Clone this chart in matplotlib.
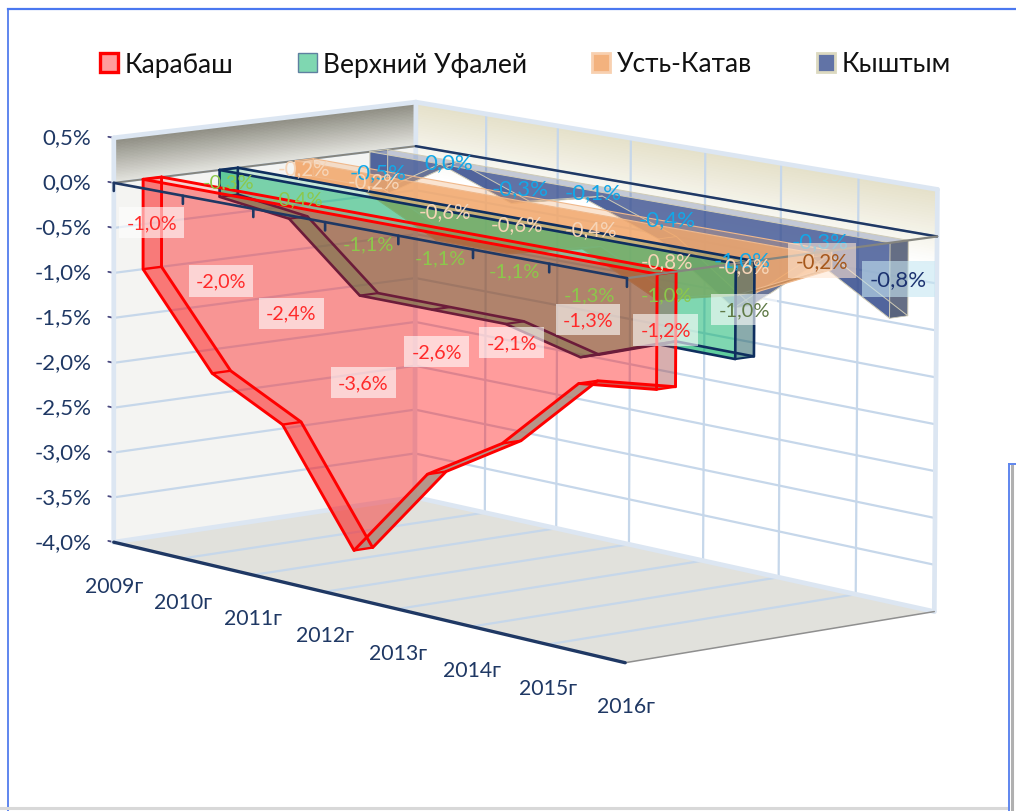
import numpy as np
import matplotlib
matplotlib.use('Agg')
import matplotlib.pyplot as plt
from matplotlib.colors import to_rgba
from matplotlib.lines import Line2D
from matplotlib.patches import Patch
from mpl_toolkits.mplot3d.art3d import Poly3DCollection

plt.rcParams['font.family'] = ['Lato', 'Open Sans', 'DejaVu Sans']

years = ['2009г', '2010г', '2011г', '2012г', '2013г', '2014г', '2015г', '2016г']
z_ticks = [0.5, 0.0, -0.5, -1.0, -1.5, -2.0, -2.5, -3.0, -3.5, -4.0]
names = ['Карабаш', 'Верхний Уфалей', 'Усть-Катав', 'Кыштым']
karabash = [-1.0, -2.0, -2.4, -3.6, -2.6, -2.1, -1.3, -1.2]
ufaley = [-0.3, -0.4, -1.1, -1.1, -1.1, -1.3, -1.0, -1.0]
katav = [-0.2, -0.2, -0.6, -0.6, -0.4, -0.8, -0.6, -0.2]
kyshtym = [-0.5, 0.0, -0.3, -0.1, -0.4, -1.0, -0.3, -0.8]
series = [karabash, ufaley, katav, kyshtym]

face = [('#ff0000', .39), ('#00b064', .50), ('#f2a86c', .88), ('#3a5090', .80)]
edge = ['#ff0000', '#0f2f5f', '#f0b98c', '#cfcbb5']
edge_w = [2.1, 1.9, 0.8, 0.7]
ribbon_up = ['#b08a7c', '#5f9a80', '#d08f58', '#56648c']
cap = [('#a04040', .42), ('#1f5f60', .52), ('#c98a58', .7), ('#4a5570', .85)]
label_col = ['#ff2a2a', '#8cc84b', '#f6d5b8', '#12a8e8']
last_col = ['#ff2a2a', '#5f7a46', '#a6581c', '#1c3270']
box_col = ['#ffffff', '#ffffff', '#ffe6d2', '#c6e6f2']
label_size = [14.2, 14.5, 14.8, 16]
navy = '#1f3864'
grid = '#c6d7ea'
wall_edge = '#dce6f2'
half = 0.12
W, H = 1016.0, 812.0

# picture position of known chart points: category, depth, value -> pixel
anchors = [
    (0, 0, .5, 113, 140), (0, 0, 0, 113, 184), (0, 0, -4, 113, 540),
    (7, 0, 0, 625, 282), (7, 0, -4, 625, 665), (7, 0, -4, 625, 665), (7, 0, -4, 625, 665),
    (3, 0, 0, 323, 226),
    (0, 4, .5, 415, 103), (0, 4, -4, 415, 505), (0, 4, 0, 415, 147),
    (7, 4, .5, 938, 185), (7, 4, -4, 932, 607), (7, 4, 0, 938, 237),
    (3, 4, .5, 631, 140),
    (0, .38, -1, 142, 265), (1, .38, -2, 213, 368), (2, .38, -2.4, 283, 423),
    (3, .38, -3.6, 352, 550), (4, .38, -2.6, 425, 475), (5, .38, -2.1, 505, 445),
    (6, .38, -1.3, 585, 390), (7, .38, -1.2, 655, 385),
    (3, .62, -3.6, 372, 548), (7, .62, -1.2, 672, 385),
    (7, 1.38, -1, 734, 360), (7, 1.62, -1, 753, 358),
    (7, 3.38, -.8, 889, 319), (7, 3.62, -.8, 906, 317),
]


def fit_camera(pts):
    rows = []
    for x, y, z, u, v in pts:
        u, v = u / 1000.0, (H - v) / 1000.0
        p = [x, y, z, 1.0]
        rows.append(p + [0, 0, 0, 0] + [-u * c for c in p])
        rows.append([0, 0, 0, 0] + p + [-v * c for c in p])
    P = np.linalg.svd(np.array(rows))[2][-1].reshape(3, 4)
    P[:2] *= 1000.0
    return P / P[2, 3]


CAM = fit_camera(anchors)

fig = plt.figure(figsize=(10.16, 8.12), dpi=100, facecolor='white')
ax = fig.add_axes([0, 0, 1, 1], projection='3d', computed_zorder=False)
ax.set_axis_off()
ax.patch.set_visible(False)
ax.apply_aspect = lambda position=None: None


def get_proj():
    T = ax.transData.inverted().get_matrix()
    Q = T @ CAM
    return np.array([Q[0], Q[1], [0, 0, 0, 1.0], Q[2]])


ax.get_proj = get_proj


def poly(verts, fc='none', ec='none', lw=0.0, z=1.0, alpha=None):
    f = to_rgba(fc, alpha) if fc != 'none' else (0, 0, 0, 0)
    e = to_rgba(ec) if ec != 'none' else (0, 0, 0, 0)
    c = Poly3DCollection([verts], facecolors=[f], edgecolors=[e], linewidths=lw, zorder=z)
    ax.add_collection3d(c, autolim=False)


def path3d(pts, color, lw, z=2.0):
    c = Poly3DCollection([list(pts)], closed=False, facecolors=[(0, 0, 0, 0)],
                         edgecolors=[to_rgba(color)], linewidths=lw, zorder=z,
                         capstyle='round', joinstyle='round')
    ax.add_collection3d(c, autolim=False)


def line(a, b, color, lw, z=2.0):
    path3d([a, b], color, lw, z)


def label(x, y, z, s, dx=0.0, dy=0.0, **kw):
    """Text placed at a chart position, dx/dy in picture pixels (dy downward)."""
    q = CAM @ np.array([x, y, z, 1.0])
    return ax.text2D((q[0] / q[2] + dx) / W, (q[1] / q[2] - dy) / H, s, transform=ax.transAxes, **kw)


def lerp(c0, c1, t):
    return tuple(np.array(to_rgba(c0)) * (1 - t) + np.array(to_rgba(c1)) * t)


# walls, gradient built of thin strips
steps = 30
for i in range(steps):
    t0, t1 = i / steps, (i + 1) / steps
    za, zb = .5 - .5 * t0, .5 - .5 * t1
    c = lerp('#8b8a7f', '#e6e6e1', t0)
    poly([(0, 0, za), (0, 4, za), (0, 4, zb), (0, 0, zb)], fc=c, ec=c, lw=.6, z=0.1)
    za, zb = .5 - .8 * t0, .5 - .8 * t1
    c = lerp('#e4e0c8', '#ffffff', t0)
    poly([(0, 4, za), (7, 4, za), (7, 4, zb), (0, 4, zb)], fc=c, ec=c, lw=.6, z=0.1)
poly([(0, 0, 0), (0, 4, 0), (0, 4, -4), (0, 0, -4)], fc='#f4f4f2', z=0.1)
poly([(0, 0, -4), (7, 0, -4), (7, 4, -4), (0, 4, -4)], fc='#e1e1dc', z=0.15)

# gridlines
for zv in z_ticks:
    line((0, 0, zv), (0, 4, zv), grid, 1.6, z=0.2)
    line((0, 4, zv), (7, 4, zv), grid, 1.6, z=0.2)
    line((0, 0, zv), (-.08, 0, zv), '#4a4a80', 1.3, z=0.2)
for i in range(1, 7):
    line((i, 4, .5), (i, 4, -4), grid, 1.6, z=0.2)
    line((i, 0, -4), (i, 4, -4), grid, 1.6, z=0.25)
for a, b in [((0, 0, .5), (0, 0, -4)), ((0, 0, .5), (0, 4, .5)), ((0, 4, .5), (7, 4, .5)),
             ((7, 4, .5), (7, 4, -4)), ((0, 4, .5), (0, 4, -4)), ((0, 0, -4), (0, 4, -4)),
             ((0, 4, -4), (7, 4, -4))]:
    line(a, b, wall_edge, 3.4, z=0.3)
line((7, 0, -4), (7, 4, -4), '#8f8f8f', 1.1, z=0.35)
line((0, 0, -4), (7, 0, -4), navy, 2.4, z=0.4)

# zero plane outline
ZPL = 9.0
line((0, 0, 0), (0, 4, 0), '#85857f', 1.4, z=0.5)
line((7, 0, 0), (7, 4, 0), '#85857f', 1.6, z=ZPL)
line((0, 4, 0), (7, 4, 0), navy, 1.8, z=0.5)
line((0, 0, 0), (7, 0, 0), navy, 1.9, z=ZPL)
for i in range(8):
    line((i, 0, 0), (i, 0, -.09), navy, 1.9, z=ZPL)

# series, far to near
X = np.arange(len(years))
for k in [3, 2, 1, 0]:
    vals = series[k]
    d0, d1 = k + .5 - half, k + .5 + half
    base = 5.0 - k
    fc, fa = face[k]
    ec, lw = edge[k], edge_w[k]
    poly([(0, d0, 0), (7, d0, 0), (7, d1, 0), (0, d1, 0)], fc=fc, alpha=fa * .35, z=base)
    for i in range(len(vals) - 1):
        a, b = vals[i], vals[i + 1]
        rising = b > a
        poly([(i, d0, a), (i + 1, d0, b), (i + 1, d1, b), (i, d1, a)],
             fc=ribbon_up[k] if rising else fc, alpha=.9 if rising else fa * .5, z=base + .1)
    poly([(7, d0, 0), (7, d1, 0), (7, d1, vals[7]), (7, d0, vals[7])], fc=cap[k][0], alpha=cap[k][1], z=base + .1)
    poly([(0, d0, 0), (0, d1, 0), (0, d1, vals[0]), (0, d0, vals[0])], fc=fc, alpha=fa * .45, z=base + .1)
    outline = [(0, d0, 0)] + [(x, d0, v) for x, v in zip(X, vals)] + [(7, d0, 0)]
    poly(outline, fc=fc, alpha=fa, z=base + .2)
    ez = base + .3
    for d in (d0, d1):
        path3d([(0, d, 0)] + [(x, d, v) for x, v in zip(X, vals)] + [(7, d, 0), (0, d, 0)], ec, lw, z=ez)
    for i, v in enumerate(vals):
        line((i, d0, v), (i, d1, v), ec, lw * .8, z=ez)
    line((0, d0, 0), (0, d1, 0), ec, lw, z=ez)
    line((7, d0, 0), (7, d1, 0), ec, lw, z=ez)

# value labels sit at mid-height of each area
for k in [3, 2, 1, 0]:
    for i, v in enumerate(series[k]):
        s = f'{v:.1f}%'.replace('.', ',')
        col = last_col[k] if i == 7 else label_col[k]
        bb = dict(facecolor=box_col[k], alpha=.6, edgecolor='none', boxstyle='square,pad=0.36') if (k == 0 or i == 7) else None
        label(i, k + .5, v / 2, s, color=col, fontsize=label_size[k], ha='center', va='center',
              zorder=20 + (3 - k), bbox=bb)

# axis labels
for zv in z_ticks:
    label(0, 0, zv, f'{zv:.1f}%'.replace('.', ','), dx=-22, color=navy, fontsize=16, ha='right', va='center', zorder=30)
for i, y in enumerate(years):
    label(i, 0, -4, y, dx=30, dy=44, color=navy, fontsize=15.3, ha='right', va='center', zorder=30)

# legend
handles = [Patch(facecolor=to_rgba(f, a), edgecolor=e, linewidth=w)
           for (f, a), e, w in zip(face, ['#ff0000', '#5f80a0', '#f8d0b0', '#dcd9c0'], [2.4, 1.0, 2.0, 2.0])]
leg = ax.legend(handles, names, ncols=4, frameon=False, fontsize=19, loc='center left',
                bbox_to_anchor=(100 / W, 1 - 65 / H), bbox_transform=fig.transFigure,
                handlelength=.7, handleheight=.75, handletextpad=.25, columnspacing=2.44, borderpad=0, borderaxespad=0)
for t in leg.get_texts():
    t.set_color('#111111')


def frame(xs, ys, color, lw):
    fig.add_artist(Line2D(np.array(xs) / W, 1 - np.array(ys) / H, color=color, lw=lw, transform=fig.transFigure))


frame([8, 8], [10, 812], '#5f86ee', 1.4)
frame([8, 1016], [10, 10], '#4a78f0', 1.6)
frame([0, 1008], [809, 809], '#d8d8d8', 2.2)
frame([1011.5, 1011.5], [467, 812], '#b0b0b0', 2.2)
frame([1009, 1009], [465, 812], '#5f86ee', 1.4)
frame([1009, 1016], [465, 465], '#5f86ee', 1.4)

fig.savefig('out.png', dpi=100)
